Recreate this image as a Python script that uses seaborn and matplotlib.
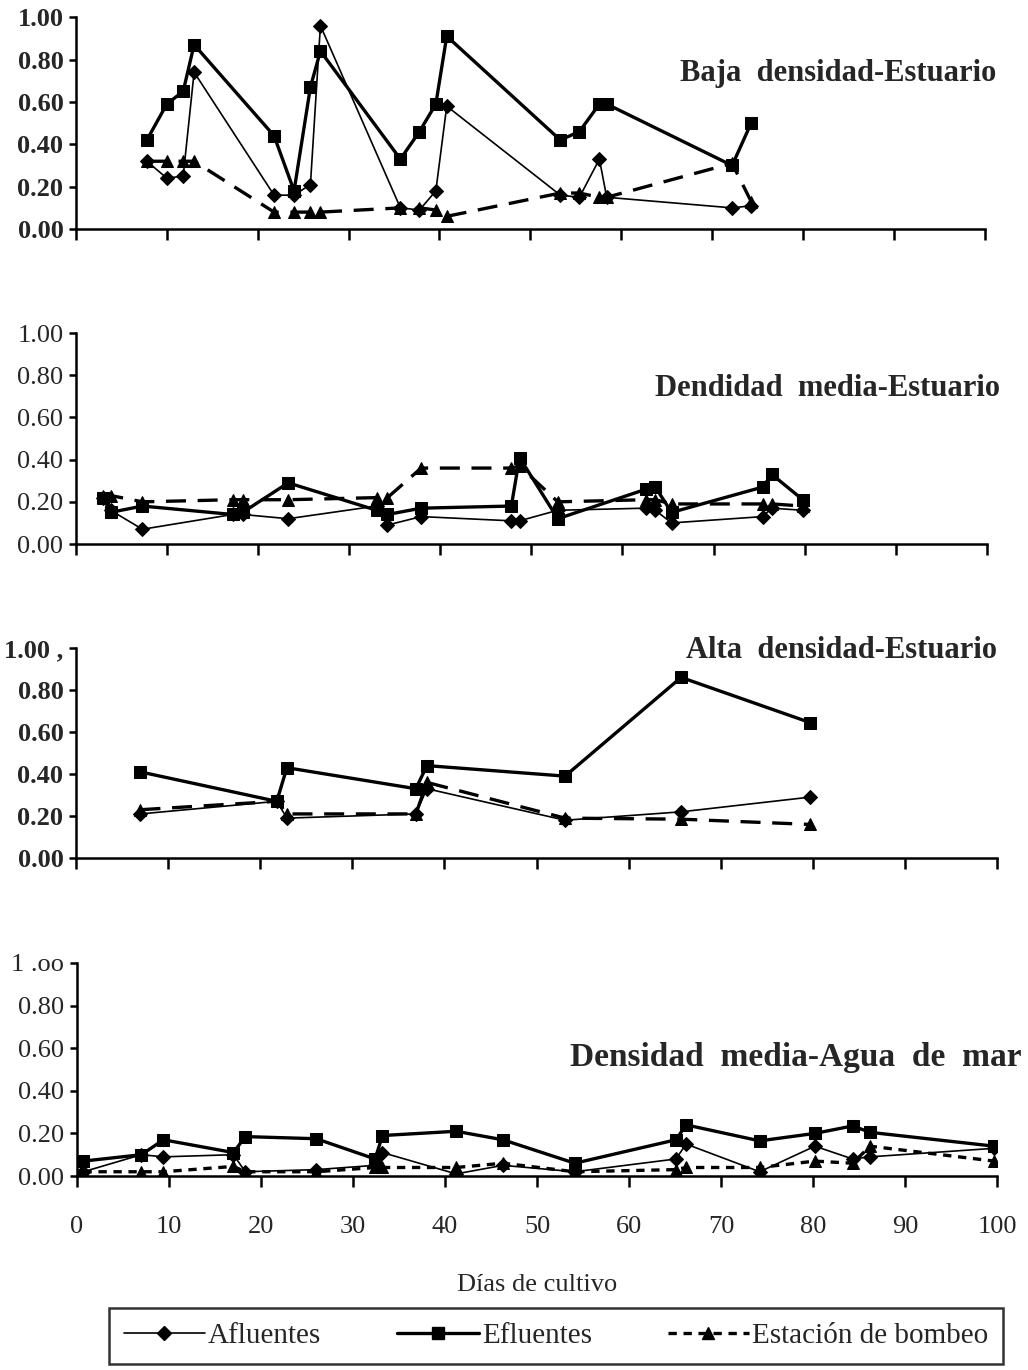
import numpy as np
import pandas as pd
import matplotlib
matplotlib.use('Agg')
import matplotlib.pyplot as plt
from matplotlib.lines import Line2D
import seaborn as sns

sns.set_theme(style='white')
plt.rcParams['font.family'] = ['Liberation Serif', 'DejaVu Serif']

# Panel 1: Baja densidad-Estuario
dias_1 = [7.8, 10.0, 11.8, 13.0, 21.8, 24.0, 25.8, 26.9, 35.7, 37.8, 39.6, 40.8,
          53.3, 55.4, 57.6, 58.4, 72.2, 74.3]
aflu_1 = [0.32, 0.24, 0.25, 0.74, 0.16, 0.16, 0.21, 0.96, 0.10, 0.09, 0.18, 0.58,
          0.16, 0.15, 0.33, 0.15, 0.10, 0.11]
eflu_1 = [0.42, 0.59, 0.65, 0.87, 0.44, 0.18, 0.67, 0.84, 0.33, 0.46, 0.59, 0.91,
          0.42, 0.46, 0.59, 0.59, 0.30, 0.50]
bomb_1 = [0.32, 0.32, 0.32, 0.32, 0.08, 0.08, 0.08, 0.08, 0.10, 0.10, 0.09, 0.06,
          0.17, 0.17, 0.15, 0.15, 0.31, 0.13]

# Panel 2: Dendidad media-Estuario
dias_2 = [3.0, 3.8, 7.3, 17.2, 18.3, 23.3, 33.0, 34.2, 37.9, 47.8, 48.7, 52.9,
          62.6, 63.6, 65.4, 75.4, 76.4, 79.8]
aflu_2 = [0.22, 0.16, 0.07, 0.14, 0.14, 0.12, 0.18, 0.09, 0.13, 0.11, 0.11, 0.16,
          0.17, 0.16, 0.10, 0.13, 0.17, 0.16]
eflu_2 = [0.22, 0.15, 0.18, 0.14, 0.15, 0.29, 0.16, 0.14, 0.17, 0.18, 0.41, 0.12,
          0.26, 0.27, 0.15, 0.27, 0.33, 0.21]
bomb_2 = [0.23, 0.23, 0.20, 0.21, 0.21, 0.21, 0.22, 0.22, 0.36, 0.36, 0.37, 0.20,
          0.21, 0.21, 0.19, 0.19, 0.19, 0.18]

# Panel 3: Alta densidad-Estuario
dias_3 = [7.0, 21.8, 22.9, 36.9, 38.1, 53.1, 65.7, 79.7]
aflu_3 = [0.21, 0.27, 0.19, 0.21, 0.33, 0.18, 0.22, 0.29]
eflu_3 = [0.41, 0.27, 0.43, 0.33, 0.44, 0.39, 0.86, 0.645]
bomb_3 = [0.23, 0.27, 0.21, 0.21, 0.36, 0.19, 0.185, 0.16]

# Panel 4: Densidad media-Agua de mar
dias_4 = [0.7, 7.0, 9.4, 17.0, 18.3, 26.0, 32.4, 33.2, 41.2, 46.3, 54.1, 65.1,
          66.2, 74.2, 80.2, 84.3, 86.2, 99.7]
aflu_4 = [0.02, 0.10, 0.09, 0.10, 0.02, 0.03, 0.05, 0.11, 0.01, 0.05, 0.02, 0.08,
          0.15, 0.02, 0.14, 0.08, 0.09, 0.13]
eflu_4 = [0.07, 0.10, 0.17, 0.11, 0.185, 0.175, 0.08, 0.19, 0.21, 0.17, 0.06, 0.17,
          0.24, 0.165, 0.20, 0.235, 0.205, 0.14]
bomb_4 = [0.02, 0.02, 0.02, 0.045, 0.02, 0.02, 0.04, 0.04, 0.04, 0.06, 0.02, 0.03,
          0.04, 0.04, 0.07, 0.06, 0.14, 0.07]

titulos = ['Baja  densidad-Estuario', 'Dendidad  media-Estuario',
           'Alta  densidad-Estuario', 'Densidad  media-Agua  de  mar']
etiquetas_y = ['0.00', '0.20', '0.40', '0.60', '0.80', '1.00']
etiquetas_top = ['1.00', '1.00', '1.00 ,', '1 .oo']
etiquetas_x = [str(v) for v in range(0, 101, 10)]

paneles = [
    (dias_1, aflu_1, eflu_1, bomb_1),
    (dias_2, aflu_2, eflu_2, bomb_2),
    (dias_3, aflu_3, eflu_3, bomb_3),
    (dias_4, aflu_4, eflu_4, bomb_4),
]

estilos = {
    'Afluentes': dict(marker='D', linewidth=1.2, linestyle='-', markersize=7),
    'Efluentes': dict(marker='s', linewidth=2.4, linestyle='-', markersize=8),
    'Estación de bombeo': dict(marker='^', linewidth=2.4, linestyle=(0, (6, 3.5)), markersize=9),
}
guion_corto = (0, (2.5, 2))

# posiciones de los ejes (fracciones de figura)
posiciones = [
    [0.0739, 0.8328, 0.884, 0.1547],
    [0.0739, 0.6029, 0.886, 0.1540],
    [0.0739, 0.3737, 0.896, 0.1533],
    [0.0749, 0.1416, 0.895, 0.1555],
]
# (x, y) del título en coordenadas de datos
pos_titulo = [(101.3, 0.735), (101.4, 0.735), (100.0, 0.99), (102.7, 0.554)]
tam_titulo = [22, 22, 22, 24]
negrita = [True, False, True, False]

fig = plt.figure(figsize=(10.28, 13.70), dpi=100)

for i, (dias, aflu, eflu, bomb) in enumerate(paneles):
    ax = fig.add_axes(posiciones[i])
    for nombre, vals in zip(estilos.keys(), [aflu, eflu, bomb]):
        df = pd.DataFrame({'dia': dias, 'valor': vals})
        kw = dict(estilos[nombre])
        if i == 3 and nombre == 'Estación de bombeo':
            kw['linestyle'] = guion_corto
        sns.lineplot(data=df, x='dia', y='valor', ax=ax, color='black',
                     estimator=None, sort=False, errorbar=None,
                     markeredgecolor='black', markerfacecolor='black', **kw)
    ax.set_xlim(0, 100)
    ax.set_ylim(0, 1.0)
    ax.set_xlabel('')
    ax.set_ylabel('')
    for s in ['top', 'right']:
        ax.spines[s].set_visible(False)
    for s in ['left', 'bottom']:
        ax.spines[s].set_color('black')
        ax.spines[s].set_linewidth(1.8)
    ax.set_xticks(range(0, 101, 10))
    ax.set_yticks([0, 0.2, 0.4, 0.6, 0.8, 1.0])
    ax.set_yticklabels(etiquetas_y[:-1] + [etiquetas_top[i]],
                       fontsize=19, fontweight='bold' if negrita[i] else 'normal')
    ax.tick_params(axis='x', bottom=True, direction='out', length=8, width=1.8,
                   color='black')
    ax.tick_params(axis='y', left=True, direction='out', length=5, width=1.8,
                   color='black', pad=4)
    if i == 3:
        ax.set_xticklabels(etiquetas_x, fontsize=19)
        ax.tick_params(axis='x', pad=21)
        ax.set_xlabel('Días de cultivo', fontsize=19, labelpad=26)
    else:
        ax.set_xticklabels([])
    tx, ty = pos_titulo[i]
    ax.text(tx, ty, titulos[i], ha='right', va='center', fontsize=tam_titulo[i],
            fontweight='bold', clip_on=False)
    ax.set_facecolor('white')

handles = []
for n in estilos:
    kw = dict(estilos[n])
    if n == 'Estación de bombeo':
        kw['linestyle'] = guion_corto
    handles.append(Line2D([], [], color='black', **kw))
leg = fig.legend(handles, list(estilos.keys()), loc='center',
                 bbox_to_anchor=(556 / 1028, 1 - 1336 / 1370),
                 ncol=3, frameon=True, fontsize=21,
                 handlelength=2.8, borderpad=0.5, fancybox=False,
                 handletextpad=0.1, columnspacing=2.6)
leg.get_frame().set_edgecolor('black')
leg.get_frame().set_linewidth(1.8)

fig.savefig('out.png', dpi=100, facecolor='white')
